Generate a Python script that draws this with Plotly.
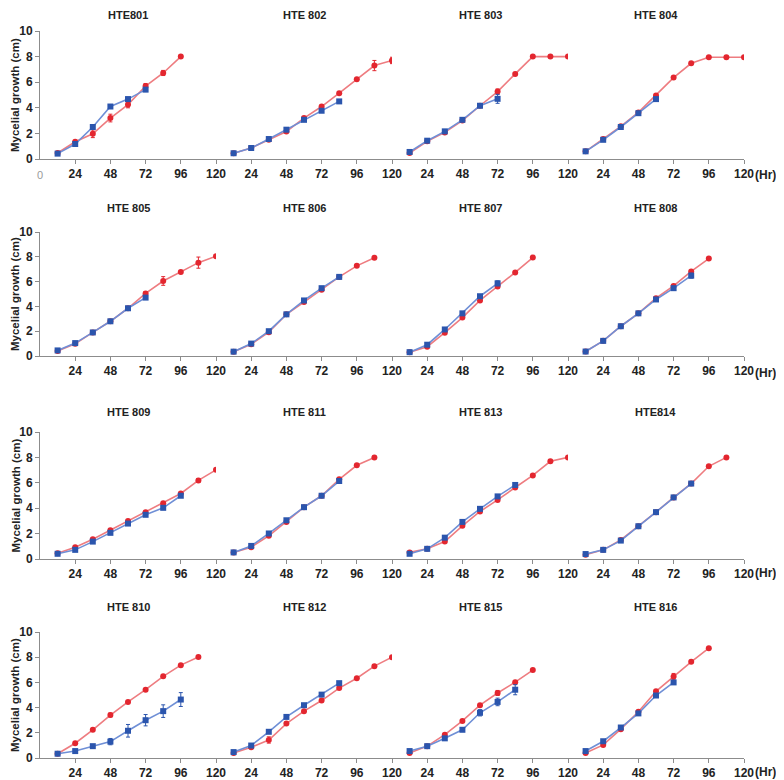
import plotly.graph_objects as go

# incubation times (hr) - every 12 hr
hours = [12, 24, 36, 48, 60, 72, 84, 96, 108, 120]

strains = ["HTE801", "HTE 802", "HTE 803", "HTE 804",
           "HTE 805", "HTE 806", "HTE 807", "HTE 808",
           "HTE 809", "HTE 811", "HTE 813", "HTE814",
           "HTE 810", "HTE 812", "HTE 815", "HTE 816"]

# red series (circles)
red_values = [
    [0.47, 1.35, 1.97, 3.2, 4.25, 5.7, 6.72, 8.0],
    [0.45, 0.86, 1.5, 2.15, 3.2, 4.1, 5.14, 6.23, 7.3, 7.7],
    [0.47, 1.38, 2.08, 3.0, 4.16, 5.27, 6.65, 8.0, 8.0, 8.0],
    [0.6, 1.56, 2.55, 3.64, 4.96, 6.36, 7.48, 7.95, 7.95, 7.95],
    [0.4, 0.98, 1.9, 2.8, 3.85, 5.05, 6.05, 6.77, 7.53, 8.05],
    [0.35, 0.95, 1.92, 3.36, 4.35, 5.34, 6.38, 7.27, 7.92],
    [0.31, 0.75, 1.88, 3.1, 4.48, 5.6, 6.74, 7.94],
    [0.36, 1.22, 2.4, 3.44, 4.66, 5.65, 6.82, 7.86],
    [0.46, 0.93, 1.55, 2.27, 2.99, 3.69, 4.39, 5.16, 6.19, 7.02],
    [0.52, 0.93, 1.83, 2.92, 4.08, 4.98, 6.27, 7.38, 8.0],
    [0.52, 0.8, 1.37, 2.61, 3.74, 4.65, 5.63, 6.58, 7.69, 8.0],
    [0.34, 0.72, 1.5, 2.58, 3.69, 4.85, 5.94, 7.3, 8.0],
    [0.34, 1.17, 2.24, 3.41, 4.45, 5.42, 6.48, 7.37, 8.02],
    [0.39, 0.86, 1.43, 2.73, 3.72, 4.56, 5.55, 6.33, 7.29, 8.0],
    [0.39, 0.94, 1.85, 2.94, 4.19, 5.16, 6.02, 6.98],
    [0.39, 1.04, 2.29, 3.67, 5.29, 6.46, 7.63, 8.72],
]
red_err = [
    [0.05, 0.1, 0.3, 0.3, 0.25, 0.2, 0.2, 0.1],
    [0, 0, 0, 0, 0, 0, 0, 0, 0.4, 0.25],
    [0, 0, 0, 0, 0, 0.2, 0, 0, 0, 0],
    [0, 0, 0, 0, 0, 0, 0, 0, 0, 0],
    [0, 0, 0, 0, 0, 0.15, 0.35, 0.12, 0.45, 0],
    [0, 0, 0, 0, 0, 0, 0, 0, 0],
    [0, 0, 0, 0, 0, 0, 0, 0],
    [0, 0, 0, 0, 0, 0, 0, 0],
    [0, 0, 0, 0, 0, 0, 0, 0, 0.15, 0],
    [0, 0, 0, 0, 0, 0, 0, 0, 0],
    [0, 0, 0, 0, 0, 0, 0, 0, 0, 0],
    [0, 0, 0, 0, 0, 0, 0, 0.1, 0],
    [0, 0, 0, 0.15, 0, 0, 0, 0, 0],
    [0, 0, 0.25, 0, 0, 0, 0, 0, 0, 0],
    [0, 0, 0, 0, 0, 0.2, 0, 0],
    [0, 0, 0, 0, 0, 0.25, 0, 0],
]

# blue series (squares)
blue_values = [
    [0.42, 1.17, 2.5, 4.1, 4.68, 5.42],
    [0.45, 0.86, 1.56, 2.29, 3.06, 3.77, 4.5],
    [0.55, 1.43, 2.16, 3.06, 4.16, 4.7],
    [0.6, 1.5, 2.5, 3.58, 4.68],
    [0.45, 1.04, 1.9, 2.8, 3.85, 4.71],
    [0.35, 1.0, 2.0, 3.36, 4.48, 5.47, 6.38],
    [0.31, 0.91, 2.14, 3.44, 4.82, 5.86],
    [0.36, 1.22, 2.4, 3.44, 4.56, 5.47, 6.48],
    [0.41, 0.72, 1.37, 2.06, 2.79, 3.48, 4.03, 4.98],
    [0.52, 1.03, 2.01, 3.05, 4.08, 4.98, 6.14],
    [0.41, 0.8, 1.68, 2.92, 3.95, 4.93, 5.83],
    [0.39, 0.72, 1.45, 2.58, 3.69, 4.85, 5.94],
    [0.34, 0.55, 0.94, 1.3, 2.16, 3.0, 3.72, 4.64],
    [0.47, 0.99, 2.08, 3.26, 4.19, 5.03, 5.94],
    [0.55, 0.94, 1.56, 2.24, 3.59, 4.45, 5.42],
    [0.55, 1.33, 2.42, 3.54, 4.96, 6.0],
]
blue_err = [
    [0, 0.15, 0, 0.1, 0.15, 0.15],
    [0, 0, 0, 0, 0, 0, 0],
    [0, 0, 0, 0, 0, 0.35],
    [0, 0, 0, 0, 0],
    [0, 0, 0, 0, 0, 0],
    [0, 0, 0, 0, 0, 0, 0],
    [0, 0, 0, 0, 0, 0.2],
    [0, 0, 0, 0, 0, 0, 0.2],
    [0, 0, 0, 0, 0, 0, 0, 0],
    [0, 0, 0, 0, 0, 0, 0],
    [0, 0, 0, 0, 0, 0, 0],
    [0, 0, 0, 0, 0, 0, 0],
    [0, 0, 0, 0.25, 0.5, 0.45, 0.5, 0.55],
    [0, 0, 0, 0, 0, 0, 0],
    [0, 0, 0, 0, 0.25, 0.3, 0.4],
    [0, 0, 0, 0, 0, 0],
]

x_ticks = [24, 48, 72, 96, 120]
y_ticks = [0, 2, 4, 6, 8, 10]

# page is 784x780 but the html body has an 8px margin -> shrink figure
OFF = 8
W, H = 784 - OFF, 780 - OFF


def px(p):
    return (p - OFF) / W


def py(p):
    return 1 - (p - OFF) / H


# pixel layout (page coordinates)
row_px = [(31, 159), (232, 356), (432, 559), (632, 758)]   # top (10) / bottom (0)
title_px = [15, 208, 412, 607]
ticklab_px = [175, 373, 573, 772]
left_px, panel_w = 40, 176

RED, RED_LINE = "#e3262f", "#ee7c80"
BLUE, BLUE_LINE = "#2b55ad", "#6f8fd6"
AXIS = "#8c8c8c"
TXT = "#222222"
FONT = "Liberation Sans, Arial, sans-serif"

fig = go.Figure()
layout = {}
annotations = []

for i, name in enumerate(strains):
    r, c = divmod(i, 4)
    xn = i + 1
    xref = "x" if xn == 1 else "x%d" % xn
    yref = "y" if r == 0 else "y%d" % (r + 1)

    rv = red_values[i]
    fig.add_trace(go.Scatter(
        x=hours[:len(rv)], y=rv, mode="lines+markers",
        line=dict(color=RED_LINE, width=1.6),
        marker=dict(color=RED, size=6, symbol="circle"),
        error_y=dict(type="data", array=red_err[i], color=RED, thickness=1, width=2),
        xaxis=xref, yaxis=yref, showlegend=False))
    bv = blue_values[i]
    fig.add_trace(go.Scatter(
        x=hours[:len(bv)], y=bv, mode="lines+markers",
        line=dict(color=BLUE_LINE, width=1.6),
        marker=dict(color=BLUE, size=6, symbol="square"),
        error_y=dict(type="data", array=blue_err[i], color=BLUE, thickness=1, width=2),
        xaxis=xref, yaxis=yref, showlegend=False))

    x0 = px(left_px + panel_w * c)
    x1 = px(left_px + panel_w * (c + 1))
    layout["xaxis" if xn == 1 else "xaxis%d" % xn] = dict(
        domain=[x0, x1], range=[0, 120], anchor=yref, automargin=False,
        tickvals=x_ticks, ticktext=[str(t) for t in x_ticks],
        showline=True, linecolor=AXIS, linewidth=1,
        ticks="outside", ticklen=4, tickcolor=AXIS,
        showgrid=False, zeroline=False,
        tickfont=dict(family=FONT, size=12, color=TXT, weight="bold"))

    annotations.append(dict(
        text=name, x=(x0 + x1) / 2, y=py(title_px[r]),
        xanchor="center", yanchor="middle",
        xref="paper", yref="paper", showarrow=False,
        font=dict(family=FONT, size=11, color=TXT, weight="bold")))

for r in range(4):
    top, bot = row_px[r]
    anchor = "x" if r == 0 else "x%d" % (4 * r + 1)
    layout["yaxis" if r == 0 else "yaxis%d" % (r + 1)] = dict(
        domain=[py(bot), py(top)], range=[0, 10], anchor=anchor,
        automargin=False,
        tickvals=y_ticks, showline=True, linecolor=AXIS, linewidth=1,
        ticks="outside", ticklen=4, tickcolor=AXIS,
        showgrid=False, zeroline=False,
        tickfont=dict(family=FONT, size=12, color=TXT, weight="bold"))
    annotations.append(dict(
        text="Mycelial growth (cm)", textangle=-90,
        x=px(15), y=py((top + bot) / 2), xanchor="center", yanchor="middle",
        xref="paper", yref="paper",
        showarrow=False, font=dict(family=FONT, size=11.5, color=TXT, weight="bold")))
    annotations.append(dict(
        text="(Hr)", x=px(753), y=py(ticklab_px[r]), xref="paper", yref="paper",
        xanchor="left", yanchor="middle", showarrow=False,
        font=dict(family=FONT, size=12, color=TXT, weight="bold")))

# faint origin label on the first row
annotations.append(dict(
    text="0", x=px(left_px), y=py(ticklab_px[0]), xref="paper", yref="paper",
    xanchor="center", yanchor="middle",
    showarrow=False, font=dict(family=FONT, size=11, color="#9a9a9a")))

fig.update_layout(
    width=W, height=H,
    margin=dict(l=0, r=0, t=0, b=0, autoexpand=False),
    paper_bgcolor="white", plot_bgcolor="white",
    annotations=annotations, showlegend=False,
    **layout)

fig.write_html("out.html")
